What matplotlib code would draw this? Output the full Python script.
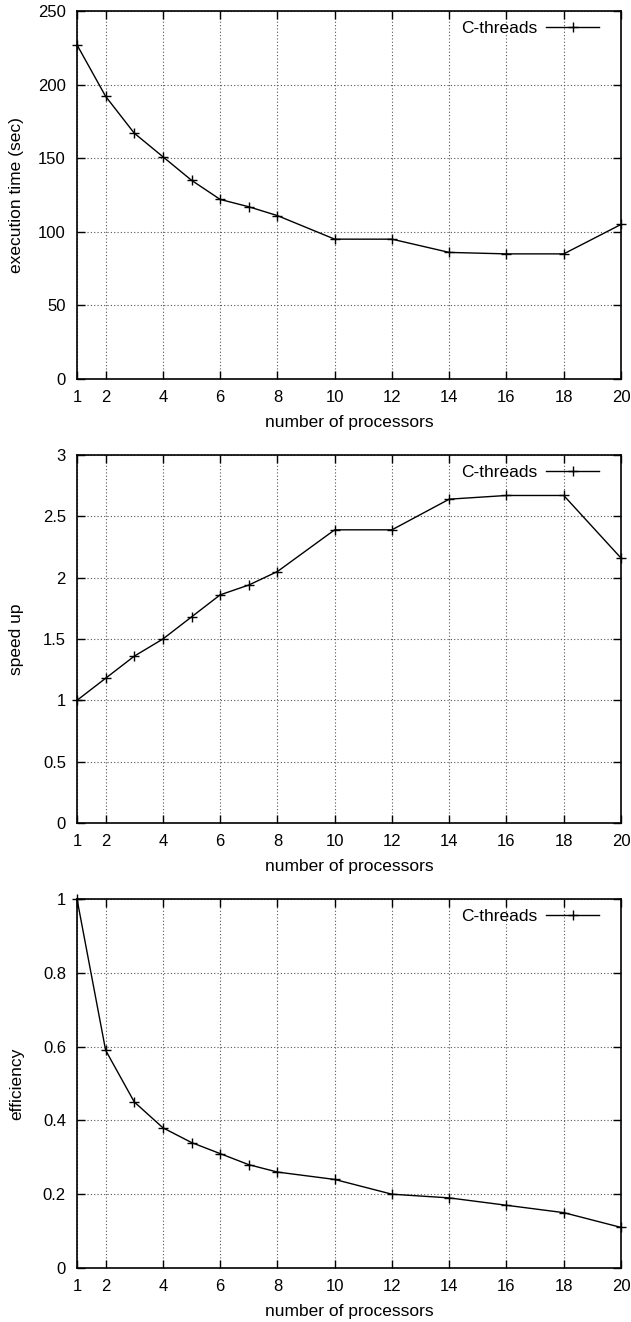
import matplotlib
matplotlib.use("Agg")
import matplotlib.pyplot as plt

procs = [1, 2, 3, 4, 5, 6, 7, 8, 10, 12, 14, 16, 18, 20]
exec_time = [227, 192, 167, 151, 135, 122, 117, 111, 95, 95, 86, 85, 85, 105]
speedup = [1.0, 1.18, 1.36, 1.5, 1.68, 1.86, 1.94, 2.05, 2.39, 2.39, 2.64, 2.67, 2.67, 2.16]
efficiency = [1.0, 0.59, 0.45, 0.38, 0.34, 0.31, 0.28, 0.26, 0.24, 0.20, 0.19, 0.17, 0.15, 0.11]

xticks = [1, 2, 4, 6, 8, 10, 12, 14, 16, 18, 20]
series_label = "C-threads"
xlabel = "number of processors"

panels = [
    (exec_time, "execution time (sec)", (0, 250), [0, 50, 100, 150, 200, 250], ["0", "50", "100", "150", "200", "250"]),
    (speedup, "speed up", (0, 3), [0, 0.5, 1, 1.5, 2, 2.5, 3], ["0", "0.5", "1", "1.5", "2", "2.5", "3"]),
    (efficiency, "efficiency", (0, 1), [0, 0.2, 0.4, 0.6, 0.8, 1], ["0", "0.2", "0.4", "0.6", "0.8", "1"]),
]

plt.rcParams['font.family'] = ['Liberation Sans', 'DejaVu Sans']

W, H = 631, 1322
fig = plt.figure(figsize=(W / 100, H / 100), dpi=100)

boxes = [(11, 379), (455, 823), (899, 1268)]
left, right = 77, 621

for (vals, ylab, ylim, yt, ytl), (top, bot) in zip(panels, boxes):
    aw, ah = right - left, bot - top
    ax = fig.add_axes([left / W, 1 - bot / H, aw / W, ah / H])
    ax.plot(procs, vals, color='black', lw=1.0, marker='+', markersize=6.5,
            markeredgewidth=1.0, label=series_label, clip_on=False, zorder=3)
    ax.set_xlim(1, 20)
    ax.set_ylim(*ylim)
    ax.set_xticks(xticks)
    ax.set_yticks(yt)
    ax.set_yticklabels(ytl)
    ax.grid(True, color='#555555', linestyle=(0, (1, 2)), linewidth=0.8)
    ax.tick_params(direction='in', length=6, width=1, top=True, right=True,
                   labelsize=12, pad=8, colors='black')
    for s in ax.spines.values():
        s.set_linewidth(1.2)
    ax.set_xlabel(xlabel, fontsize=12.5, labelpad=7)
    ax.set_ylabel(ylab, fontsize=12.5, labelpad=0)
    ax.yaxis.set_label_coords(-(left - 24) / aw, 0.5)
    ax.legend(loc='upper right', frameon=False, fontsize=12.5,
              handlelength=3.05, handletextpad=0.5, markerfirst=False,
              borderaxespad=0, borderpad=0,
              bbox_to_anchor=(1 - 22 / aw, 1 - 10 / ah))

fig.savefig("out.png", dpi=100)
